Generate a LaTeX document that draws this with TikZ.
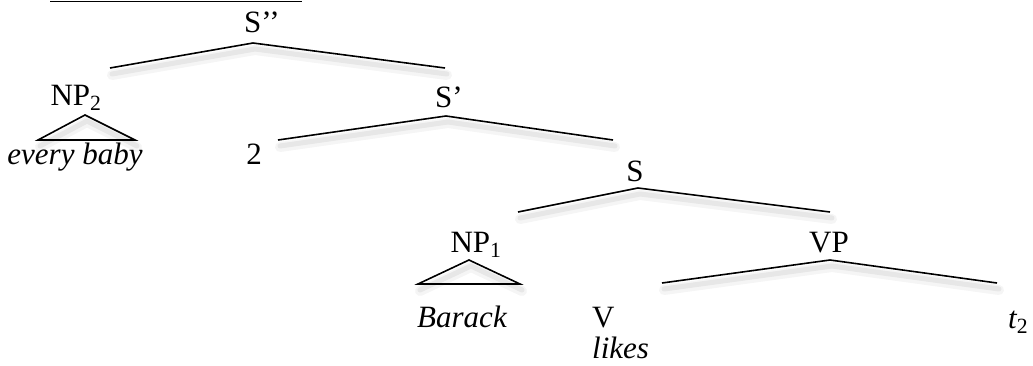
\documentclass[tikz,border=0pt]{standalone}
\usepackage{fontspec}
\setmainfont{Liberation Serif}
\begin{document}
\begin{tikzpicture}[x=1pt,y=-1pt,
  lbl/.style={inner sep=0pt,anchor=base,font=\fontsize{31}{36}\selectfont},
  lblw/.style={inner sep=0pt,anchor=base west,font=\fontsize{31}{36}\selectfont},
  branch/.style={draw=black,line width=1.6pt,line join=miter},
  shadowA/.style={draw=black,opacity=0.04,line width=10pt,line join=round,line cap=round},
  shadowB/.style={draw=black,opacity=0.06,line width=5pt,line join=round,line cap=round}]
\useasboundingbox (0,0) rectangle (1033,365);
% top underline (cut-off heading)
\coordinate (ulA) at (50,1.5);
\coordinate (ulB) at (302,1.5);
\draw[line width=1.2pt] (ulA) -- (ulB);
% labels
\node[lbl] (Sdd) at (262,32) {S’’};
\node[lbl] (NPtwo) at (76,105) {NP\textsubscript{2}};
\node[lbl] (eb) at (75,164) {\itshape every baby};
\node[lbl] (two) at (254,164) {2};
\node[lbl] (Sp) at (449,107) {S’};
\node[lbl] (S) at (635,181) {S};
\node[lbl] (NPone) at (476,252) {NP\textsubscript{1}};
\node[lbl] (Bar) at (462,327) {\itshape Barack};
\node[lblw] (V) at (592,327) {V};
\node[lblw] (likes) at (592,358) {\itshape likes};
\node[lbl] (VP) at (829,252) {VP};
\node[lblw] (t) at (1008,328) {\itshape t\textsubscript{\upshape 2}};
% branch points
\coordinate (a1) at (110,68);  \coordinate (p1) at (253,43);  \coordinate (b1) at (445,68);
\coordinate (a2) at (278,140); \coordinate (p2) at (446,116); \coordinate (b2) at (613,140);
\coordinate (a3) at (518,212); \coordinate (p3) at (638,188); \coordinate (b3) at (830,212);
\coordinate (a4) at (662,283); \coordinate (p4) at (830,260); \coordinate (b4) at (997,283);
\coordinate (t1l) at (38,140); \coordinate (t1p) at (85,115); \coordinate (t1r) at (135,140);
\coordinate (t2l) at (418,284); \coordinate (t2p) at (469,260); \coordinate (t2r) at (520,284);
% shadows
\foreach \A/\P/\B in {a1/p1/b1,a2/p2/b2,a3/p3/b3,a4/p4/b4,t1l/t1p/t1r,t2l/t2p/t2r}{
  \draw[shadowA] ([shift={(2,7)}]\A) -- ([shift={(2,7)}]\P) -- ([shift={(2,7)}]\B);
  \draw[shadowB] ([shift={(2,6)}]\A) -- ([shift={(2,6)}]\P) -- ([shift={(2,6)}]\B);
}
% branches
\draw[branch] (a1) -- (p1) -- (b1);
\draw[branch] (a2) -- (p2) -- (b2);
\draw[branch] (a3) -- (p3) -- (b3);
\draw[branch] (a4) -- (p4) -- (b4);
\draw[branch] (t1l) -- (t1p) -- (t1r) -- cycle;
\draw[branch] (t2l) -- (t2p) -- (t2r) -- cycle;
\end{tikzpicture}
\end{document}
